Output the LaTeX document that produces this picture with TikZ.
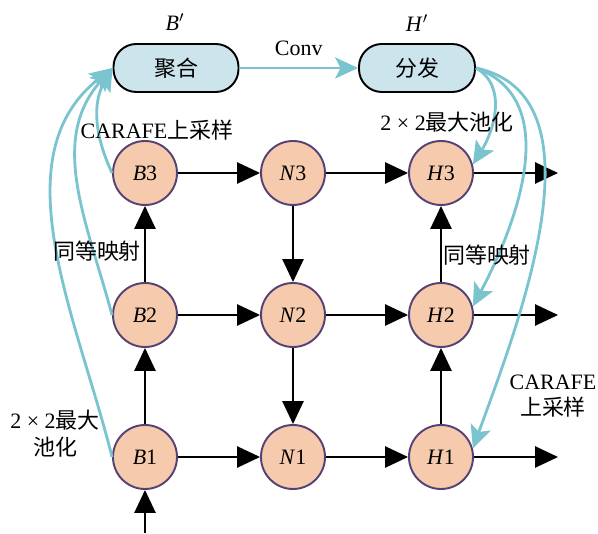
\documentclass[tikz,border=0pt]{standalone}
\usepackage{fontspec}
\setmainfont{Liberation Serif}
\newfontfamily\cjk{Noto Sans CJK SC}
\usetikzlibrary{arrows.meta}

\definecolor{peach}{RGB}{246,202,172}
\definecolor{ringc}{RGB}{85,65,115}
\definecolor{boxc}{RGB}{204,228,236}
\definecolor{linkc}{RGB}{122,196,208}

\begin{document}
\begin{tikzpicture}[
    font=\fontsize{12.5}{15}\selectfont,
    feat/.style={circle,draw=ringc,line width=1.1pt,fill=peach,minimum size=1.28cm,inner sep=0pt},
    fuse/.style={rectangle,rounded corners=13pt,draw=black,line width=1.1pt,fill=boxc,minimum height=0.96cm},
    flow/.style={-{Triangle[length=13pt,width=12pt]},line width=1.1pt},
    link/.style={-{Stealth[length=13pt,width=12pt,inset=3pt]},draw=linkc,line width=1.6pt}
  ]
  \useasboundingbox (0,0) rectangle (11.96,10.66);

  % feature nodes
  \node[feat] (B1) at (2.9,1.52) {\textit{B}1};
  \node[feat] (B2) at (2.9,4.36) {\textit{B}2};
  \node[feat] (B3) at (2.9,7.2) {\textit{B}3};
  \node[feat] (N1) at (5.86,1.52) {\textit{N}1};
  \node[feat] (N2) at (5.86,4.36) {\textit{N}2};
  \node[feat] (N3) at (5.86,7.2) {\textit{N}3};
  \node[feat] (H1) at (8.82,1.52) {\textit{H}1};
  \node[feat] (H2) at (8.82,4.36) {\textit{H}2};
  \node[feat] (H3) at (8.82,7.2) {\textit{H}3};

  % gather / scatter boxes
  \node[fuse,minimum width=2.5cm] (agg) at (3.52,9.3) {\cjk 聚合};
  \node[fuse,minimum width=2.32cm] (dist) at (8.34,9.3) {\cjk 分发};
  \node (bp) at (3.5,10.22) {\textit{B}$'$};
  \node (hp) at (8.34,10.2) {\textit{H}$'$};

  \coordinate (in0) at (2.9,0);
  \coordinate (o1) at (11.16,1.52);
  \coordinate (o2) at (11.16,4.36);
  \coordinate (o3) at (11.16,7.2);

  % grid arrows
  \draw[flow] (in0) -- (B1);
  \draw[flow] (B1) -- (B2);
  \draw[flow] (B2) -- (B3);
  \draw[flow] (H1) -- (H2);
  \draw[flow] (H2) -- (H3);
  \draw[flow] (N3) -- (N2);
  \draw[flow] (N2) -- (N1);
  \foreach \r in {1,2,3} {
    \draw[flow] (B\r) -- (N\r);
    \draw[flow] (N\r) -- (H\r);
    \draw[flow] (H\r) -- (o\r);
  }

  % balanced feature path
  \draw[link] (agg) -- node[above=3pt,black] {Conv} (dist);
  \draw[link] (B3.west) to[out=115,in=240] (agg.west);
  \draw[link] (B2.west) to[out=105,in=228] (agg.west);
  \draw[link] (B1.west) to[out=104,in=218,looseness=0.95] (agg.west);
  \draw[link] (dist.east) to[out=-30,in=58] (H3.15);
  \draw[link] (dist.east) to[out=-20,in=62] (H2.15);
  \draw[link] (dist.east) to[out=-12,in=70,looseness=0.9] (H1.15);

  % labels
  \node (l1) at (3.14,8.06) {CARAFE{\cjk 上采样}};
  \node (l2) at (1.94,5.64) {\cjk 同等映射};
  \node[align=center] (l3) at (1.1,1.99) {2 × 2{\cjk 最大}\\{\cjk 池化}};
  \node (l4) at (8.94,8.22) {2 × 2{\cjk 最大池化}};
  \node (l5) at (9.74,5.56) {\cjk 同等映射};
  \node[align=center] (l6) at (11.06,2.74) {CARAFE\\{\cjk 上采样}};
\end{tikzpicture}
\end{document}
